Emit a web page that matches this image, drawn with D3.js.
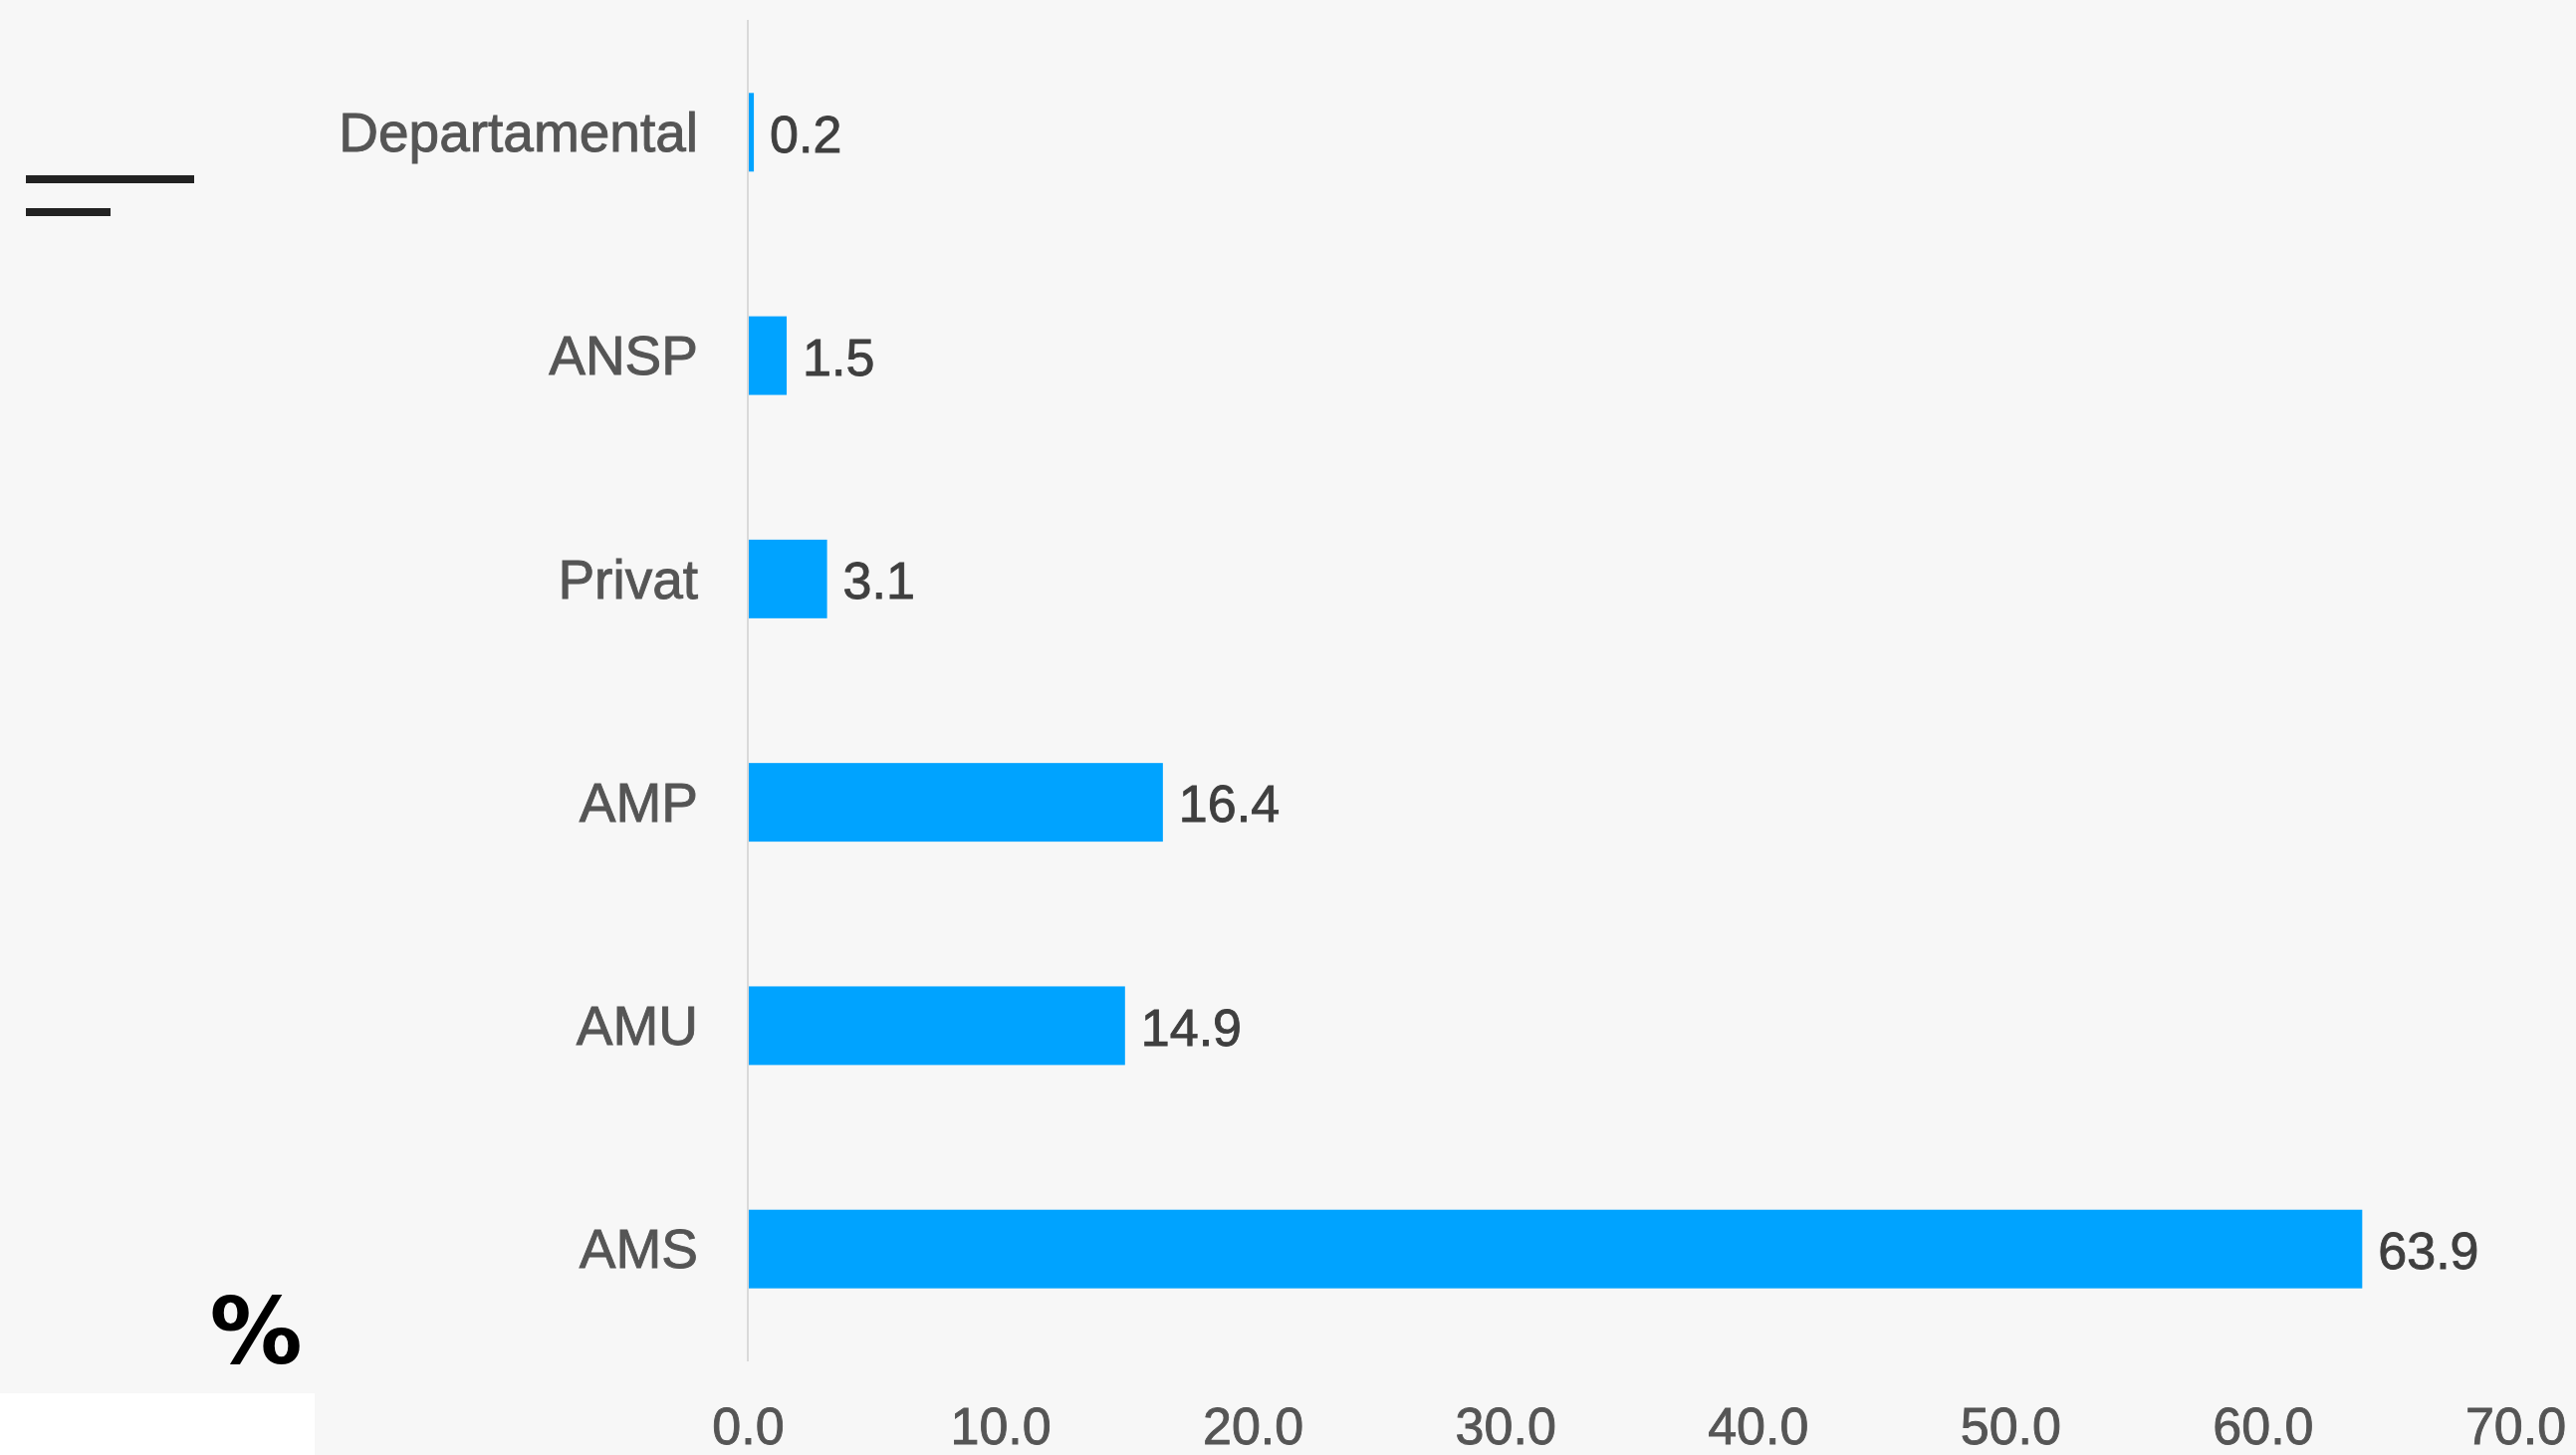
<!DOCTYPE html>
<html>
<head>
<meta charset="utf-8">
<script src="https://cdn.jsdelivr.net/npm/d3@7"></script>
<style>
html,body{margin:0;padding:0;background:#f7f7f7;overflow:hidden;}
svg{display:block;}
</style>
</head>
<body>
<script>
const categories = ["Departamental", "ANSP", "Privat", "AMP", "AMU", "AMS"];
const values = [0.2, 1.5, 3.1, 16.4, 14.9, 63.9];
const xTicks = [0, 10, 20, 30, 40, 50, 60, 70];
const unitLabel = "%";

const W = 2587, H = 1461;
const svg = d3.select("body").append("svg").attr("width", W).attr("height", H);
svg.append("rect").attr("width", W).attr("height", H).attr("fill", "#f7f7f7");

// white block bottom-left
svg.append("rect").attr("x", 0).attr("y", 1399).attr("width", 316).attr("height", H - 1399).attr("fill", "#ffffff");

// menu icon
svg.append("rect").attr("x", 26).attr("y", 176).attr("width", 169).attr("height", 8).attr("fill", "#222");
svg.append("rect").attr("x", 26).attr("y", 209).attr("width", 85).attr("height", 8).attr("fill", "#222");

const x = d3.scaleLinear().domain([0, 70]).range([751, 2526]);
const y = d3.scaleBand().domain(categories).range([20, 1367]).paddingInner(0.648).paddingOuter(0.327);

// baseline axis line
svg.append("line").attr("x1", x(0)).attr("x2", x(0)).attr("y1", 20).attr("y2", 1367)
  .attr("stroke", "#d9d9d9").attr("stroke-width", 2);

const data = categories.map((c, i) => ({c, v: values[i]}));

svg.append("g").selectAll("rect").data(data).join("rect")
  .attr("x", x(0) + 1)
  .attr("y", d => y(d.c))
  .attr("width", d => Math.max(1, x(d.v) - x(0)))
  .attr("height", y.bandwidth())
  .attr("fill", "#00a3ff");

svg.append("g").selectAll("text").data(data).join("text")
  .attr("x", d => x(d.v) + 17)
  .attr("y", d => y(d.c) + y.bandwidth() / 2)
  .attr("dy", "0.38em")
  .attr("font-family", "'Liberation Sans', Arial, sans-serif")
  .attr("font-size", 52)
  .attr("fill", "#3f3f3f")
  .attr("stroke", "#3f3f3f").attr("stroke-width", 0.9)
  .text(d => d.v.toFixed(1));

// category axis
const yAxis = d3.axisLeft(y).tickSize(0).tickPadding(0);
const gy = svg.append("g").attr("transform", `translate(701,0)`).call(yAxis);
gy.select(".domain").remove();
gy.selectAll("text")
  .attr("font-family", "'Liberation Sans', Arial, sans-serif")
  .attr("font-size", 55)
  .attr("fill", "#555555")
  .attr("stroke", "#555555").attr("stroke-width", 0.9)
  .attr("dy", "0.35em");

// x axis
const xAxis = d3.axisBottom(x).tickValues(xTicks).tickSize(0).tickPadding(0).tickFormat(d3.format(".1f"));
const gx = svg.append("g").attr("transform", `translate(0,1450)`).call(xAxis);
gx.select(".domain").remove();
gx.selectAll("text")
  .attr("font-family", "'Liberation Sans', Arial, sans-serif")
  .attr("font-size", 52)
  .attr("fill", "#555555")
  .attr("stroke", "#555555").attr("stroke-width", 0.9)
  .attr("y", 0)
  .attr("dy", 0);

// unit label
svg.append("text").attr("x", 257).attr("y", 1369).attr("text-anchor", "middle")
  .attr("font-family", "'DejaVu Sans', sans-serif").attr("font-weight", "bold")
  .attr("font-size", 93).attr("fill", "#000").text(unitLabel);
</script>
</body>
</html>
